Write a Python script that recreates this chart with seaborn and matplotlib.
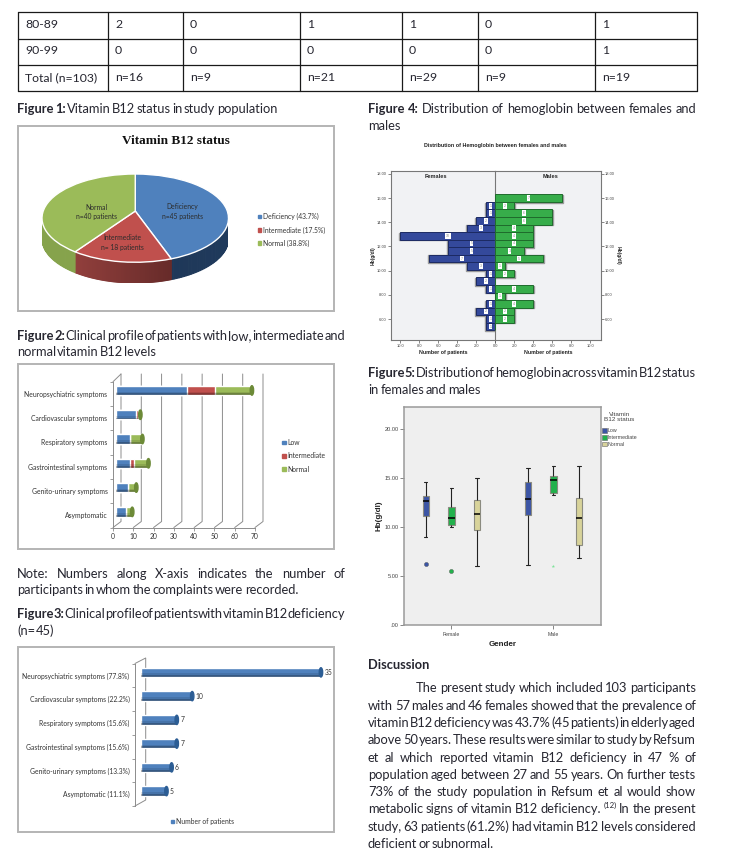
import matplotlib
matplotlib.use("Agg")
import matplotlib.pyplot as plt
import seaborn as sns
import pandas as pd
import numpy as np
from matplotlib.patches import Ellipse, Rectangle

W, H = 730, 868

# --- data ---
table_rows = [
    ["80-89", "2", "0", "1", "1", "0", "1"],
    ["90-99", "0", "0", "0", "0", "0", "1"],
    ["Total (n=103)", "n=16", "n=9", "n=21", "n=29", "n=9", "n=19"],
]

status_labels = ["Deficiency (43.7%)", "Intermediate (17.5%)", "Normal (38.8%)"]
status_counts = [45, 18, 40]

symptoms = ["Neuropsychiatric symptoms", "Cardiovascular symptoms", "Respiratory symptoms",
            "Gastrointestinal symptoms", "Genito-urinary symptoms", "Asymptomatic"]
low_counts = [35, 10, 7, 7, 6, 5]
intermediate_counts = [14, 1, 0, 2, 0, 0]
normal_counts = [18, 1, 6, 7, 4, 3]

deficiency_labels = ["Neuropsychiatric symptoms (77.8%)", "Cardiovascular symptoms (22.2%)",
                     "Respiratory symptoms (15.6%)", "Gastrointestinal symptoms (15.6%)",
                     "Genito-urinary symptoms (13.3%)", "Asymptomatic (11.1%)"]
deficiency_counts = [35, 10, 7, 7, 6, 5]

hb_bins = [16.0, 15.375, 14.75, 14.125, 13.5, 12.875, 12.25, 11.625, 11.0,
           10.375, 9.75, 9.125, 8.5, 7.875, 7.25, 6.625, 6.0, 5.375]
female_hist = [0, 1, 1, 2, 3, 10, 5, 5, 7, 3, 1, 2, 1, 0, 1, 2, 1, 1]
male_hist = [7, 2, 6, 6, 4, 4, 4, 3, 5, 1, 2, 0, 4, 1, 4, 2, 2, 0]

genders = ["Female", "Male"]
b12_status = ["Low", "Intermediate", "Normal"]
# min, q1, median, q3, max
female_low = [9.05, 11.15, 12.7, 13.2, 14.6]
female_int = [10.07, 10.24, 10.95, 12.04, 14.0]
female_norm = [6.05, 9.73, 11.36, 12.76, 15.03]
male_low = [6.15, 11.26, 12.86, 14.66, 16.02]
male_int = [13.27, 13.54, 14.8, 15.24, 16.22]
male_norm = [6.84, 8.2, 10.95, 12.96, 16.22]
outlier_gender = [0, 0, 1]
outlier_status = [0, 1, 1]
outlier_hb = [6.3, 5.5, 6.0]

sns.set_theme(style="white")
plt.rcParams["font.family"] = ["Lato", "DejaVu Sans"]

fig = plt.figure(figsize=(W / 100, H / 100), dpi=100)
page = fig.add_axes([0, 0, 1, 1])
page.set_xlim(0, W)
page.set_ylim(H, 0)
page.axis("off")


def axes_px(x0, y0, x1, y1):
    ax = fig.add_axes([x0 / W, 1 - y1 / H, (x1 - x0) / W, (y1 - y0) / H])
    ax.patch.set_alpha(0)
    return ax


TEXT_COL = "#262630"
BODY = 8.8
CAPTION = 9.3


def line(y, x0, x1, text, bold=0, size=CAPTION):
    # spread the words between x0 and x1 like the justified column
    renderer = fig.canvas.get_renderer()
    items = []
    for i, word in enumerate(text.split(" ")):
        sup = word.startswith("(12)")
        t = page.text(x0, y - 3.5 if sup else y, word, fontsize=size * 0.6 if sup else size,
                      fontweight="bold" if i < bold else "normal",
                      color=TEXT_COL, va="center", ha="left")
        items.append((t, t.get_window_extent(renderer).width))
    total = sum(w for _, w in items)
    gap = (x1 - x0 - total) / max(len(items) - 1, 1)
    x = x0
    for t, w in items:
        t.set_x(x)
        x += w + gap


def panel(y0, y1):
    page.add_patch(Rectangle((17.5, y0), 316.5, y1 - y0, fill=False, ec="#b4b4b4", lw=1.4))


# --- table ---
col_lines = [17.5, 107.5, 182.5, 299.5, 401.5, 477.5, 594.5, 696.5]
row_lines = [11.5, 38.5, 64.5, 91]
for xl in col_lines:
    page.plot([xl, xl], [row_lines[0], row_lines[-1]], color="#1a1a1a", lw=0.9)
for yl in row_lines:
    page.plot([col_lines[0], col_lines[-1]], [yl, yl], color="#1a1a1a", lw=0.9)
row_y = [25, 50.7, 77.7]
for ry, row in zip(row_y, table_rows):
    for cx, cell in zip(col_lines, row):
        page.text(cx + 7.5, ry, cell, fontsize=BODY, color=TEXT_COL, va="center", ha="left")

# --- captions and body text ---
line(109, 17, 277, "Figure 1: Vitamin B12 status in study population", bold=2)
line(336, 17, 345, "Figure 2: Clinical profile of patients with low, intermediate and", bold=2)
line(352, 17, 156, "normal vitamin B12 levels")
line(574, 17, 345, "Note: Numbers along X-axis indicates the number of")
line(590, 17, 298, "participants in whom the complaints were recorded.")
line(614, 17, 345, "Figure 3: Clinical profile of patients with vitamin B12 deficiency", bold=2)
line(631, 17, 54, "(n= 45)")
line(109, 368, 696, "Figure 4: Distribution of hemoglobin between females and", bold=2)
line(126, 368, 399, "males")
line(372.7, 368, 696, "Figure 5: Distribution of hemoglobin across vitamin B12 status", bold=2)
line(389.7, 368, 481, "in females and males")
line(665, 368, 426, "Discussion", bold=1)
para = [
    (687.7, 415.7, 696, "The present study which included 103 participants"),
    (705.7, 368, 696, "with 57 males and 46 females showed that the prevalence of"),
    (723, 368, 696, "vitamin B12 deficiency was 43.7% (45 patients) in elderly aged"),
    (740.3, 368, 696, "above 50 years. These results were similar to study by Refsum"),
    (757.7, 368, 696, "et al which reported vitamin B12 deficiency in 47 % of"),
    (775, 368, 696, "population aged between 27 and 55 years. On further tests"),
    (792, 368, 696, "73% of the study population in Refsum et al would show"),
    (809, 368, 696, "metabolic signs of vitamin B12 deficiency. (12) In the present"),
    (826.7, 368, 696, "study, 63 patients (61.2%) had vitamin B12 levels considered"),
    (843.7, 368, 494, "deficient or subnormal."),
]
for py, x0, x1, txt in para:
    line(py, x0, x1, txt)

# --- figure 1: pie with a faked 3d side ---
panel(126, 311)
page.text(176, 140.5, "Vitamin B12 status", fontsize=9.5, fontweight="bold", ha="center", va="center",
          family=["Liberation Serif"], color="#111111")
pie_ax = axes_px(42, 174, 228.5, 283)
top_colors = ["#4f81bd", "#c0504d", "#9bbb59"]
side_dark = [("#1d3350", "#1f3a5c"), ("#a04643", "#4e1f1e"), ("#86a34c", "#86a34c")]
wedges, _ = pie_ax.pie(status_counts, colors=top_colors, startangle=90, counterclock=False, radius=1)
DEPTH = 0.47
shares = np.cumsum([0] + status_counts) / sum(status_counts)
for i, color_pair in enumerate(side_dark):
    a0, a1 = 90 - 360 * shares[i], 90 - 360 * shares[i + 1]
    angles = np.radians(np.linspace(a0, a1, 90))
    cmix = matplotlib.colors.LinearSegmentedColormap.from_list("side", color_pair)
    for p, q in zip(angles[:-1], angles[1:]):
        if np.sin(p) > 0.02 and np.sin(q) > 0.02:
            continue
        frac = (np.cos(p) + 1) / 2
        pie_ax.fill([np.cos(p), np.cos(q), np.cos(q), np.cos(p)],
                    [np.sin(p), np.sin(q), np.sin(q) - DEPTH, np.sin(p) - DEPTH],
                    facecolor=cmix(frac), edgecolor=cmix(frac), lw=0.8, zorder=0.5)
# perspective: the apex sits above the middle of the ellipse
for w in wedges:
    path = w.get_path()
    v = path.vertices.copy()
    v[np.hypot(v[:, 0], v[:, 1]) < 1e-6, 1] += 0.16
    path.vertices = v
pie_ax.set_aspect("auto")
pie_ax.set_xlim(-1, 1)
pie_ax.set_ylim(-1 - DEPTH, 1)
pie_ax.axis("off")
AXLAB = 4.85
for x, y, txt in [(182, 211.5, "Deficiency\nn=45 patients"), (122, 242.5, "Intermediate\nn= 18 patients"),
                  (96, 212, "Normal\nn=40 patients")]:
    pie_ax.text(x, y, txt, transform=page.transData, fontsize=AXLAB, ha="center", va="center",
                color="#2c2c2c", linespacing=1.45, zorder=5)
for ly, col, lab in zip([216.5, 230, 243], top_colors, status_labels):
    page.add_patch(Rectangle((257.5, ly - 1.6), 3.2, 3.2, color=col))
    page.text(263, ly, lab, fontsize=AXLAB, va="center", color="#333333")


def shade_bars(ax, bars):
    # cylinder look: darker bands along the underside of each bar
    for bar in bars:
        x0, y0 = bar.get_x(), bar.get_y()
        w, h = bar.get_width(), bar.get_height()
        for frac, alpha in [(0.38, 0.1), (0.2, 0.22)]:
            ax.add_patch(Rectangle((x0, y0 + h * (1 - frac)), w, h * frac, color="black",
                                   alpha=alpha, lw=0, zorder=3))


def cap(ax, value, y, height, px_per_unit, color):
    ax.add_patch(Ellipse((value, y), 3.4 / px_per_unit, height, color=color, zorder=4))


def fake_axis(ax, ticklabels, fontsize):
    for s in ["top", "right"]:
        ax.spines[s].set_visible(False)
    for s in ["left", "bottom"]:
        ax.spines[s].set_color("#8c8c8c")
        ax.spines[s].set_linewidth(0.7)
    ax.set_ylim(5.5, -0.5)
    ax.set_yticks(range(len(ticklabels)), labels=ticklabels, fontsize=fontsize, color="#333333")
    ax.set_yticks(np.arange(-0.5, 6), minor=True)
    ax.tick_params(axis="y", which="major", length=0, pad=4)
    ax.tick_params(axis="y", which="minor", length=2.5, color="#8c8c8c", direction="out", left=True, width=0.6)
    ax.set_xlabel("")
    ax.set_ylabel("")


# --- figure 2: stacked 3d-looking bars ---
panel(364, 549)
px2 = 142 / 70
front2 = axes_px(113, 381.7, 255, 527.5)
front2.set_xlim(0, 70)
fake_axis(front2, symptoms, AXLAB)
front2.set_xticks(range(0, 71, 10))
front2.tick_params(axis="x", length=2, color="#8c8c8c", labelsize=AXLAB, labelcolor="#333333", pad=2, bottom=True, width=0.6)
for tick in range(0, 71, 10):
    xp = 113 + tick * px2
    page.plot([xp, xp + 8, xp + 8], [527.5, 521.5, 374], color="#8c8c8c", lw=0.7, zorder=1)
page.plot([113, 121], [381.7, 374], color="#8c8c8c", lw=0.7, zorder=1)

bars2 = axes_px(116, 378.3, 258, 524)
df2 = pd.DataFrame({"symptom": symptoms, "low": low_counts, "mid": intermediate_counts, "high": normal_counts})
df2["mid_cum"] = df2["low"] + df2["mid"]
df2["high_cum"] = df2["mid_cum"] + df2["high"]
stack_cols = ["#9bbb59", "#c0504d", "#4f81bd"]
for col, color in zip(["high_cum", "mid_cum", "low"], stack_cols):
    sns.barplot(data=df2, y="symptom", x=col, color=color, saturation=1, width=0.39, ax=bars2, zorder=2)
shade_bars(bars2, list(bars2.patches)[:6])
for i, total in enumerate(df2["high_cum"]):
    cap(bars2, total, i, 0.39, px2, "#6c8a37")
bars2.set_xlim(0, 70)
bars2.set_ylim(5.5, -0.5)
bars2.axis("off")
for ly, col, lab in zip([442.7, 456, 469], ["#4f81bd", "#c0504d", "#9bbb59"], ["Low", "Intermediate", "Normal"]):
    page.add_patch(Rectangle((281.5, ly - 1.6), 4, 3.2, color=col))
    page.text(287, ly, lab, fontsize=AXLAB, va="center", color="#333333")

# --- figure 3 ---
panel(647, 832)
px3 = 5.15
front3 = axes_px(135, 663.5, 325, 806)
front3.set_xlim(0, 190 / px3)
fake_axis(front3, deficiency_labels, AXLAB)
front3.spines["bottom"].set_visible(False)
front3.set_xticks([])
page.plot([135, 145.7, 145.7, 135], [663.5, 658, 800, 806], color="#8c8c8c", lw=0.7, zorder=1)

bars3 = axes_px(140.7, 660.5, 330.7, 803)
df3 = pd.DataFrame({"symptom": deficiency_labels, "patients": deficiency_counts})
sns.barplot(data=df3, y="symptom", x="patients", color="#4f81bd", saturation=1, width=0.39, ax=bars3, zorder=2)
shade_bars(bars3, list(bars3.patches))
for i, val in enumerate(deficiency_counts):
    cap(bars3, val, i, 0.39, px3, "#2c5d94")
bars3.bar_label(bars3.containers[0], padding=2.5, fontsize=AXLAB, color="#333333")
bars3.set_xlim(0, 190 / px3)
bars3.set_ylim(5.5, -0.5)
bars3.axis("off")
page.add_patch(Rectangle((170.5, 819.7), 3.6, 3.2, color="#4f81bd"))
page.text(176.5, 821.3, "Number of patients", fontsize=AXLAB, va="center", color="#333333")

# --- figure 4: population pyramid ---
SANS = ["Liberation Sans"]
page.text(495.5, 146, "Distribution of Hemoglobin between females and males", fontsize=3.9,
          fontweight="bold", ha="center", va="center", family=SANS, color="#222222")
PYR_BG = "#f1f2f4"
left = axes_px(390.7, 171.3, 495.3, 339.7)
right = axes_px(495.3, 171.3, 600.7, 339.7)
df_f = pd.DataFrame({"hb": hb_bins, "n": female_hist})
df_m = pd.DataFrame({"hb": hb_bins, "n": male_hist})
for ax, df, color, edge, xlim, zero_label in [(left, df_f, "#34499b", "#1c2a63", (11, 0), ""),
                                              (right, df_m, "#37ad4a", "#1f6b2c", (0, 11.1), "0.0")]:
    ax.patch.set_alpha(1)
    ax.set_facecolor(PYR_BG)
    sns.barplot(data=df, y="hb", x="n", orient="y", native_scale=True, color=color, saturation=1,
                width=1, edgecolor=edge, linewidth=0.7, ax=ax, zorder=3)
    for bar in list(ax.patches):
        val = bar.get_width()
        if val > 0:
            # grey offset shadow behind each bar
            ax.add_patch(Rectangle((0, bar.get_y() - 0.05), val + 0.12, bar.get_height(),
                                   color="#9a9a9a", zorder=2))
            ax.text(val / 2, bar.get_y() + bar.get_height() / 2, f"{val:.0f}", fontsize=2.6, color="#888888",
                    ha="center", va="center", family=SANS, zorder=5,
                    bbox=dict(boxstyle="square,pad=0.25", fc="white", ec="none"))
    ax.set_xlim(*xlim)
    ax.set_ylim(4.29, 18.22)
    ax.set_xlabel("Number of patients", fontsize=3.8, fontweight="bold", family=SANS, labelpad=1, color="#222222")
    ax.set_ylabel("")
    ax.set_xticks(range(0, 11, 2), labels=[zero_label] + [f"{t:.1f}" for t in range(2, 11, 2)])
    ax.set_yticks(range(6, 19, 2), labels=[f"{t:.2f}" for t in range(6, 19, 2)])
    ax.tick_params(labelsize=2.9, length=2, width=0.5, color="#555555", labelcolor="#444444", pad=1.2,
                   bottom=True, labelfontfamily="Liberation Sans")
    for s in ax.spines.values():
        s.set_color("#777777")
        s.set_linewidth(0.8)
left.spines["right"].set_visible(False)
right.tick_params(left=False, labelleft=False, right=True, labelright=True, axis="y")
left.tick_params(left=True, labelleft=True, axis="y")
left.text(0.43, 0.97, "Females", transform=left.transAxes, fontsize=4.1, fontweight="bold", ha="center", va="center", family=SANS)
right.text(0.525, 0.97, "Males", transform=right.transAxes, fontsize=4.1, fontweight="bold", ha="center", va="center", family=SANS)
page.text(373, 255.7, "Hb(g/dl)", fontsize=3.5, fontweight="bold", rotation=90, ha="center", va="center", family=SANS)
page.text(618.3, 255.7, "Hb(g/dl)", fontsize=3.5, fontweight="bold", rotation=270, ha="center", va="center", family=SANS)

# --- figure 5: grouped boxplot ---
box_colors = ["#3c55a5", "#22b14c", "#d8d39a"]
box_ax = axes_px(404, 407, 600.7, 625.3)
box_ax.patch.set_alpha(1)
box_ax.set_facecolor("#efefef")
groups = [("Female", "Low", female_low), ("Female", "Intermediate", female_int), ("Female", "Normal", female_norm),
          ("Male", "Low", male_low), ("Male", "Intermediate", male_int), ("Male", "Normal", male_norm)]
df5 = pd.DataFrame([{"gender": g, "status": s, "hb": v} for g, s, vals in groups for v in vals])
sns.boxplot(data=df5, x="gender", y="hb", hue="status", order=genders, hue_order=b12_status,
            palette=box_colors, saturation=1, whis=(0, 100), width=0.75, gap=0.74, legend=False,
            ax=box_ax, linewidth=0.8, linecolor="#8b8b80", showfliers=False,
            medianprops=dict(color="black", linewidth=1.1),
            whiskerprops=dict(color="#222222", linewidth=0.8),
            capprops=dict(color="#222222", linewidth=0.8))
for g, s, hb in zip(outlier_gender, outlier_status, outlier_hb):
    star = g == 1
    box_ax.scatter(g + (s - 1) * 0.25, hb, s=7 if star else 9, marker="*" if star else "o",
                   color="#7fe39a" if star else box_colors[s], edgecolors="none" if star else "#555555",
                   linewidths=0.3, zorder=4)
box_ax.set_xlim(-0.464, 1.464)
box_ax.set_ylim(0, 22.28)
box_ax.set_yticks([0, 5, 10, 15, 20], labels=[".00", "5.00", "10.00", "15.00", "20.00"])
box_ax.tick_params(axis="y", labelsize=4.1, length=3, width=0.5, color="#555555", labelcolor="#444444", pad=1,
                   left=True, labelfontfamily="Liberation Sans")
box_ax.tick_params(axis="x", labelsize=3.7, length=3, width=0.5, color="#555555", labelcolor="#444444", pad=1.5,
                   bottom=True, labelfontfamily="Liberation Sans")
box_ax.set_xlabel("Gender", fontsize=5.8, fontweight="bold", family=SANS, labelpad=3.5, color="#222222")
box_ax.set_ylabel("Hb(g/dl)", fontsize=5.8, fontweight="bold", family=SANS, labelpad=1.5, color="#222222")
for s in box_ax.spines.values():
    s.set_color("#9a9a9a")
    s.set_linewidth(1.1)
page.text(619.3, 417, "Vitamin\nB12 status", fontsize=4.6, ha="center", va="center", family=SANS, color="#444444", linespacing=1.05)
for ly, col, lab in zip([430.7, 437.3, 444], box_colors, b12_status):
    page.add_patch(Rectangle((602, ly - 2.4), 4.6, 4.8, fc=col, ec="#666666", lw=0.4))
    page.text(607.8, ly, lab, fontsize=3.8, va="center", family=SANS, color="#444444")

fig.savefig("out.png", dpi=100)
